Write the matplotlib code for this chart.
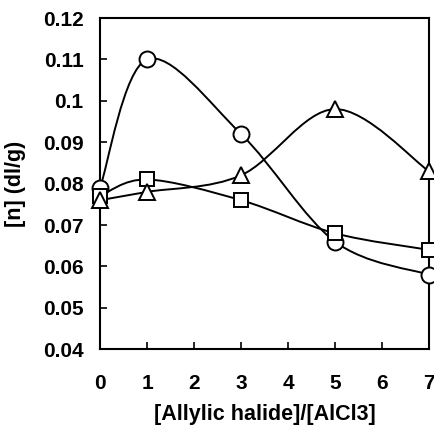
import matplotlib.pyplot as plt
import numpy as np
from matplotlib.path import Path
from matplotlib.patches import PathPatch

plt.rcParams['font.family'] = ['Liberation Sans', 'DejaVu Sans']
plt.rcParams['font.weight'] = 'bold'

ratio = [0, 1, 3, 5, 7]
visc_circle = [0.079, 0.110, 0.092, 0.066, 0.058]
visc_square = [0.077, 0.081, 0.076, 0.068, 0.064]
visc_triangle = [0.076, 0.078, 0.082, 0.098, 0.083]


def smooth_path(x, y):
    # excel-like smoothed line: cubic bezier segments through the points
    x = np.asarray(x, float)
    y = np.asarray(y, float)
    verts = [(x[0], y[0])]
    codes = [Path.MOVETO]
    n = len(x)
    for i in range(n - 1):
        p0 = np.array([x[max(i - 1, 0)], y[max(i - 1, 0)]])
        p1 = np.array([x[i], y[i]])
        p2 = np.array([x[i + 1], y[i + 1]])
        p3 = np.array([x[min(i + 2, n - 1)], y[min(i + 2, n - 1)]])
        c1 = p1 + (p2 - p0) / 6
        c2 = p2 - (p3 - p1) / 6
        verts += [tuple(c1), tuple(c2), tuple(p2)]
        codes += [Path.CURVE4] * 3
    return Path(verts, codes)


fig = plt.figure(figsize=(4.35, 4.29), dpi=100)
ax = fig.add_axes([0.23, 0.186, 0.756, 0.772])

for ys, m in [(visc_circle, 'o'), (visc_square, 's'), (visc_triangle, '^')]:
    ax.add_patch(PathPatch(smooth_path(ratio, ys), fill=False, lw=1.4,
                           ec='black', zorder=2))
    ax.plot(ratio, ys, ls='none', marker=m, ms=11.5 if m != 's' else 10.5,
            mfc='white', mec='black', mew=1.4, zorder=3, clip_on=False)

ax.set_xlim(0, 7)
ax.set_ylim(0.04, 0.12)
ax.set_xticks(range(8))
ax.set_yticks(np.arange(0.04, 0.121, 0.01))
ax.set_yticklabels(['0.04', '0.05', '0.06', '0.07', '0.08', '0.09', '0.1', '0.11', '0.12'])
ax.tick_params(direction='in', labelsize=15, width=1.2, length=5, pad=12)
ax.tick_params(axis='x', pad=18)
for s in ax.spines.values():
    s.set_linewidth(1.5)

ax.set_xlabel('[Allylic halide]/[AlCl3]', fontsize=15.5, fontweight='bold', labelpad=8)
ax.set_ylabel('[n] (dl/g)', fontsize=15.5, fontweight='bold', labelpad=12)

fig.savefig('out.png', dpi=100)
